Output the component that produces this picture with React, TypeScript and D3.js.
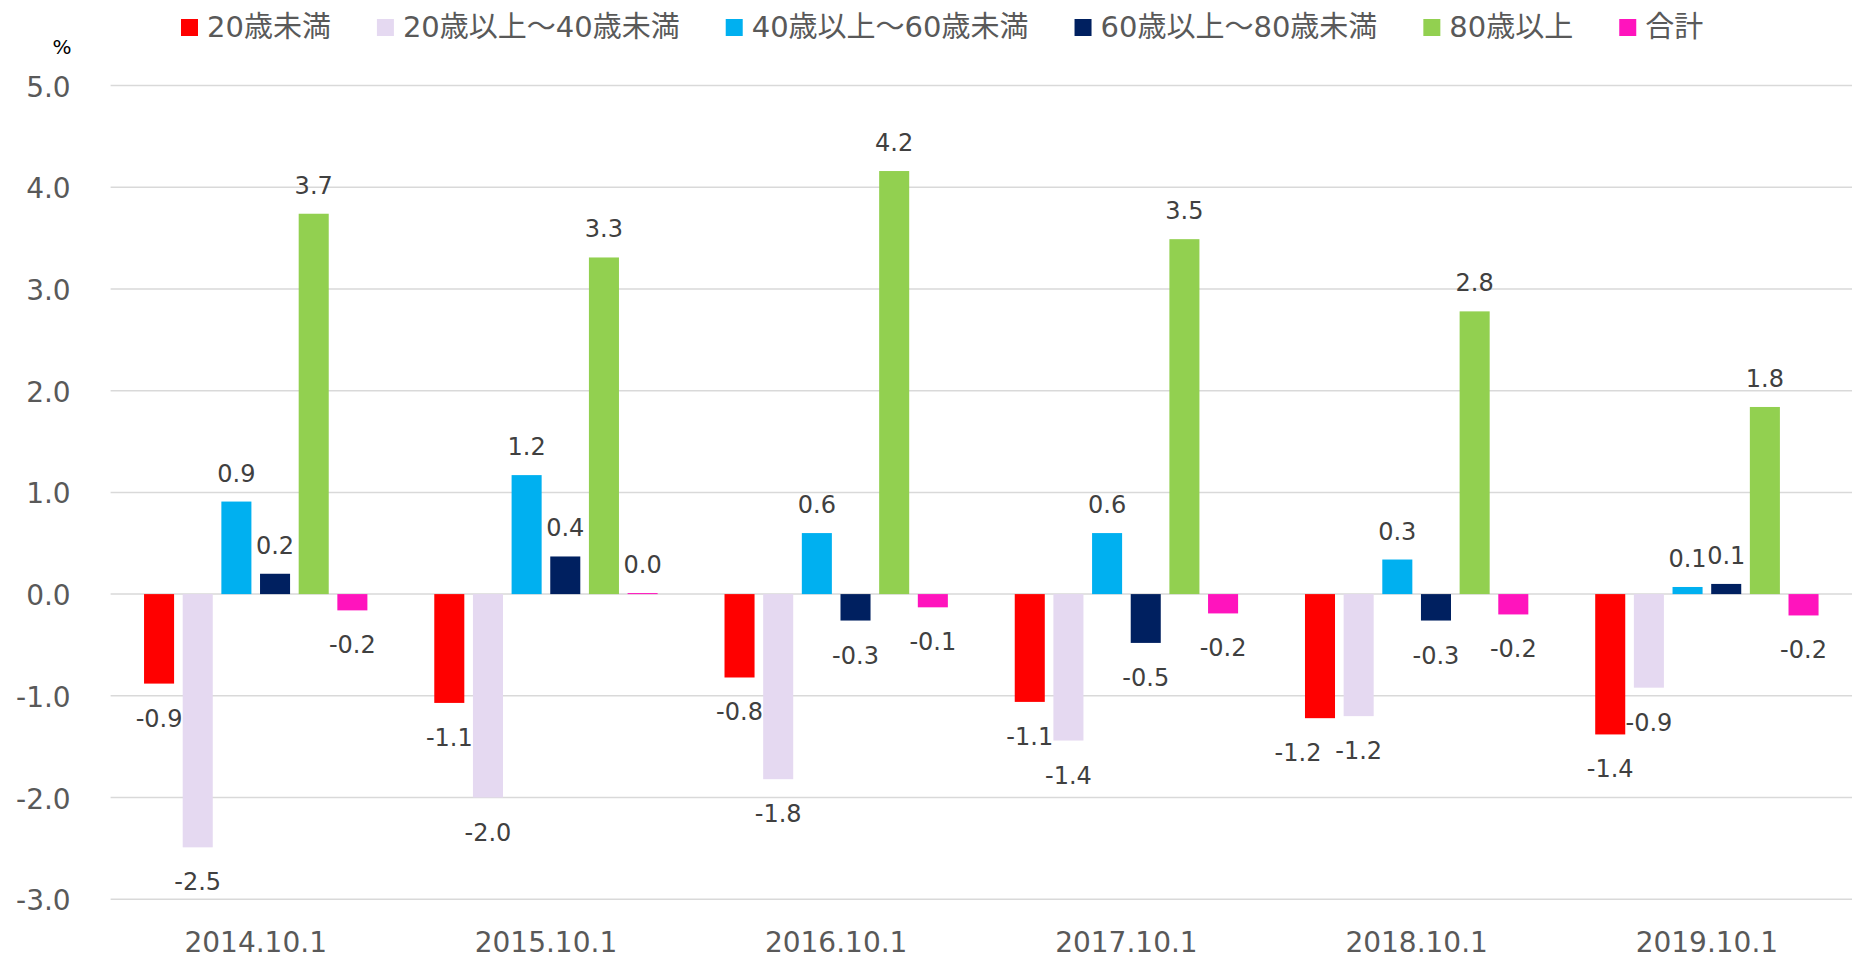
import { useEffect, useRef } from "react";
import * as d3 from "d3";

const categories = ["2014.10.1", "2015.10.1", "2016.10.1", "2017.10.1", "2018.10.1", "2019.10.1"];
const seriesNames = ["20歳未満", "20歳以上～40歳未満", "40歳以上～60歳未満", "60歳以上～80歳未満", "80歳以上", "合計"];
const seriesColors = ["#ff0000", "#e5d9f1", "#00b0f0", "#002060", "#92d050", "#ff14bd"];

// one array per series, values per year
const under20 = [-0.88, -1.07, -0.82, -1.06, -1.22, -1.38];
const age20to40 = [-2.49, -2.0, -1.82, -1.44, -1.2, -0.92];
const age40to60 = [0.91, 1.17, 0.6, 0.6, 0.34, 0.07];
const age60to80 = [0.2, 0.37, -0.26, -0.48, -0.26, 0.1];
const over80 = [3.74, 3.31, 4.16, 3.49, 2.78, 1.84];
const total = [-0.16, 0.01, -0.13, -0.19, -0.2, -0.21];

const yTicks = [5, 4, 3, 2, 1, 0, -1, -2, -3];

// labels moved by hand in the original so they don't collide
const labelNudge: Record<string, number> = { "4-0": -22 };

const FONT = "'DejaVu Sans', 'Noto Sans CJK JP', sans-serif";
const fmt = (v: number) => v.toFixed(1);

const App = () => {
  const svgRef = useRef<SVGSVGElement>(null);

  useEffect(() => {
    document.body.style.margin = "0";
    const W = 1865;
    const H = 966;
    const svg = d3.select(svgRef.current).attr("width", W).attr("height", H);
    svg.selectAll("*").remove();
    svg.style("font-family", FONT).style("display", "block");

    const series = [under20, age20to40, age40to60, age60to80, over80, total];

    const left = 110.6;
    const right = 1852;
    const y = d3.scaleLinear().domain([-3, 5]).range([899.2, 85.6]);
    const x0 = d3.scaleBand().domain(categories).range([left, right]);
    const x1 = d3
      .scaleBand<number>()
      .domain(d3.range(seriesNames.length))
      .range([0, x0.bandwidth()])
      .paddingInner(0.223)
      .paddingOuter(0.865);

    // grid
    svg
      .append("g")
      .selectAll("line")
      .data(yTicks)
      .join("line")
      .attr("x1", left)
      .attr("x2", right)
      .attr("y1", (d) => y(d))
      .attr("y2", (d) => y(d))
      .attr("stroke", "#d9d9d9")
      .attr("stroke-width", 1.5);

    // y labels
    svg
      .append("g")
      .selectAll("text")
      .data(yTicks)
      .join("text")
      .attr("x", 70.7)
      .attr("y", (d) => y(d) + 11)
      .attr("text-anchor", "end")
      .attr("font-size", 28)
      .attr("fill", "#595959")
      .text((d) => fmt(d));

    svg
      .append("text")
      .attr("x", 62)
      .attr("y", 54)
      .attr("text-anchor", "middle")
      .attr("font-size", 20)
      .attr("fill", "#000")
      .text("%");

    // bars
    const groups = svg
      .append("g")
      .selectAll("g")
      .data(categories)
      .join("g")
      .attr("transform", (d) => `translate(${x0(d)},0)`);

    groups.each(function (cat, ci) {
      const g = d3.select(this);
      const vals = series.map((s, si) => ({ si, v: s[ci] }));
      g.selectAll("rect")
        .data(vals)
        .join("rect")
        .attr("x", (d) => x1(d.si)!)
        .attr("width", x1.bandwidth())
        .attr("y", (d) => y(Math.max(0, d.v)))
        .attr("height", (d) => Math.abs(y(d.v) - y(0)))
        .attr("fill", (d) => seriesColors[d.si]);
      g.selectAll("text")
        .data(vals)
        .join("text")
        .attr("x", (d) => x1(d.si)! + x1.bandwidth() / 2 + (labelNudge[`${ci}-${d.si}`] || 0))
        .attr("y", (d) => (d.v >= 0 ? y(d.v) - 20 : y(d.v) + 43))
        .attr("text-anchor", "middle")
        .attr("font-size", 24)
        .attr("fill", "#404040")
        .text((d) => fmt(d.v));
    });

    // x labels
    svg
      .append("g")
      .selectAll("text")
      .data(categories)
      .join("text")
      .attr("x", (d) => x0(d)! + x0.bandwidth() / 2)
      .attr("y", 951.7)
      .attr("text-anchor", "middle")
      .attr("font-size", 28)
      .attr("fill", "#595959")
      .text((d) => d);

    // legend
    const legend = svg.append("g");
    let lx = 181;
    seriesNames.forEach((name, i) => {
      legend
        .append("rect")
        .attr("x", lx)
        .attr("y", 19)
        .attr("width", 17)
        .attr("height", 17)
        .attr("fill", seriesColors[i]);
      const t = legend
        .append("text")
        .attr("x", lx + 26)
        .attr("y", 37.3)
        .attr("font-size", 29)
        .attr("fill", "#595959")
        .text(name);
      const tw = (t.node() as SVGTextElement).getComputedTextLength();
      lx = lx + 26 + tw + 46;
    });
  }, []);

  return <svg ref={svgRef}></svg>;
};

export default App;
